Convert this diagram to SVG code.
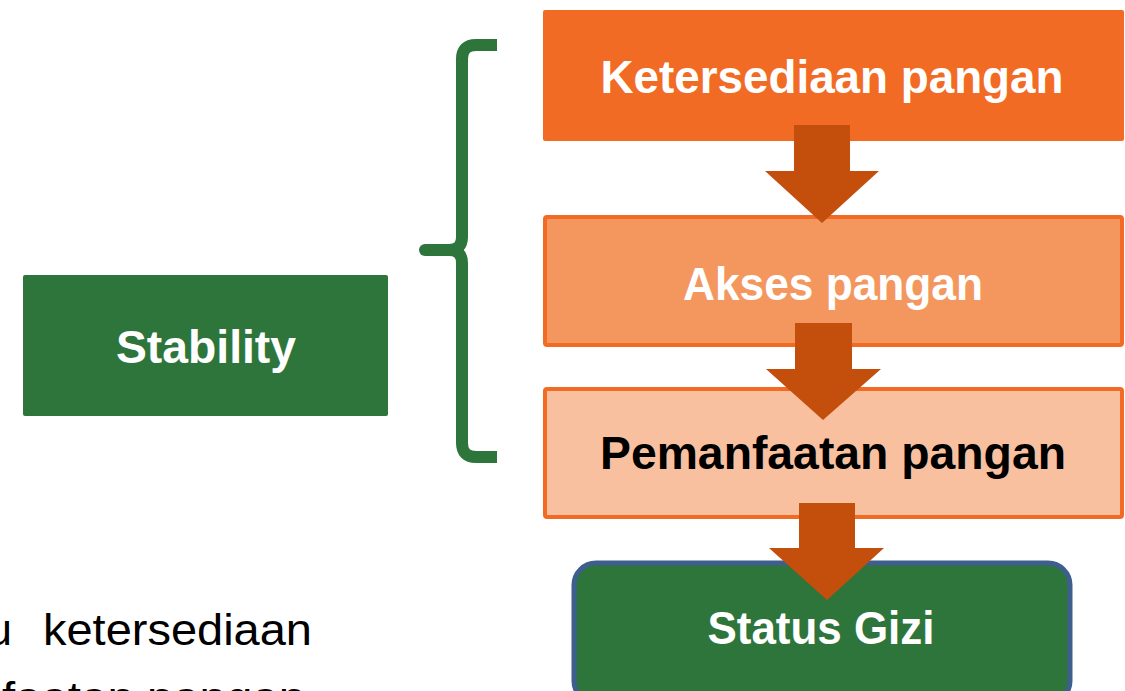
<svg xmlns="http://www.w3.org/2000/svg" width="1125" height="691" viewBox="0 0 1125 691">
<style>
.lbl{font-family:"Liberation Sans",Arial,sans-serif;font-weight:bold;font-size:46px;text-anchor:middle}
.w{fill:#FFFFFF}
.k{fill:#000000}
.body{font-family:"Liberation Sans",Arial,sans-serif;font-size:45px;fill:#000000}
.arrow{fill:#C44E0C}
</style>
<rect width="1125" height="691" fill="#FFFFFF"/>
<g id="stability">
<rect x="23" y="275" width="365" height="141" rx="2" fill="#2E753C"/>
<text class="lbl w" x="206" y="363" textLength="180" lengthAdjust="spacingAndGlyphs">Stability</text>
</g>
<g id="bracket">
<path d="M497 45 L476 45 Q462 45 462 59 L462 237 Q462 250 449 250 L425 250 M449 250 Q462 250 462 263 L462 443 Q462 457 476 457 L497 457" fill="none" stroke="#2E753C" stroke-width="12" stroke-linecap="butt" stroke-linejoin="round"/>
<circle cx="425" cy="250" r="6" fill="#2E753C"/>
</g>
<g id="ketersediaan">
<rect x="543" y="10" width="581" height="131" rx="2" fill="#F26B25"/>
<text class="lbl w" x="832" y="93" textLength="463" lengthAdjust="spacingAndGlyphs">Ketersediaan pangan</text>
</g>
<g id="akses">
<rect x="545" y="217" width="577" height="128" rx="2" fill="#F4975F" stroke="#F26B25" stroke-width="4"/>
<text class="lbl w" x="833" y="300" textLength="300" lengthAdjust="spacingAndGlyphs">Akses pangan</text>
</g>
<g id="pemanfaatan">
<rect x="545" y="389" width="577" height="128" rx="2" fill="#F9C09F" stroke="#F26B25" stroke-width="4"/>
<text class="lbl k" x="833" y="469" textLength="466" lengthAdjust="spacingAndGlyphs">Pemanfaatan pangan</text>
</g>
<g id="status-gizi">
<rect x="574" y="563" width="496" height="140" rx="22" fill="#2E753C" stroke="#3E5E8E" stroke-width="5"/>
<text class="lbl w" x="821" y="644" textLength="227" lengthAdjust="spacingAndGlyphs">Status Gizi</text>
</g>
<g id="connectors">
<polygon class="arrow" points="794,125 850,125 850,171 879,171 822,223 765,171 794,171"/>
<polygon class="arrow" points="795,323 852,323 852,369 881,369 823,420 766,369 795,369"/>
<polygon class="arrow" points="799,503 855,503 855,548 884,548 827,600 769,548 799,548"/>
</g>
<g id="body-text">
<text class="body" x="12" y="645" text-anchor="end">u</text>
<text class="body" x="43" y="645" textLength="269" lengthAdjust="spacingAndGlyphs">ketersediaan</text>
<text class="body" x="2" y="713" textLength="303" lengthAdjust="spacingAndGlyphs">faatan pangan</text>
</g>
</svg>
